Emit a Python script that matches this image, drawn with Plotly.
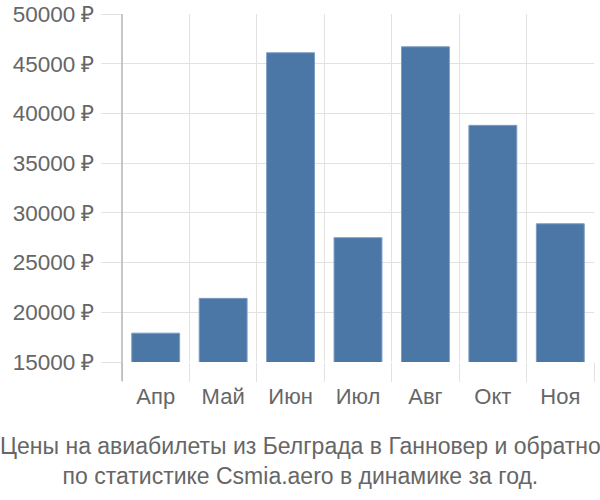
import plotly.graph_objects as go

months = ["Апр", "Май", "Июн", "Июл", "Авг", "Окт", "Ноя"]
prices = [17900, 21400, 46100, 27500, 46700, 38800, 28900]
y_ticks = [15000, 20000, 25000, 30000, 35000, 40000, 45000, 50000]
y_tick_labels = [f"{v} ₽" for v in y_ticks]
title_lines = ["Цены на авиабилеты из Белграда в Ганновер и обратно",
               "по статистике Csmia.aero в динамике за год."]

FONT = "Liberation Sans, Arial, sans-serif"
GRID = "#e2e2e2"
TEXT = "#666666"

fig = go.Figure(go.Bar(
    x=months, y=prices,
    marker=dict(color="#4a77a6", line=dict(color="#7b9cc2", width=1)),
    width=0.71,
))

fig.update_layout(
    width=600, height=500,
    margin=dict(l=122, r=6, t=14, b=138),
    paper_bgcolor="white", plot_bgcolor="white",
    showlegend=False,
    font=dict(family=FONT, color=TEXT, size=22),
    bargap=0.29,
)
fig.update_yaxes(
    range=[15000, 50000],
    tickvals=y_ticks, ticktext=y_tick_labels,
    showgrid=True, gridcolor=GRID, gridwidth=1,
    ticks="outside", ticklen=20, tickcolor=GRID,
    zeroline=False, showline=False,
    tickfont=dict(size=22.5, color=TEXT),
    ticklabelstandoff=2,
    automargin=False,
)
fig.update_xaxes(
    tickson="boundaries",
    showgrid=True, gridcolor=GRID, gridwidth=1,
    ticks="outside", ticklen=19, tickcolor=GRID,
    showline=False, zeroline=False,
    tickfont=dict(size=22, color=TEXT),
    ticklabelstandoff=19,
    automargin=False,
)
# left axis line extending below plot area
fig.add_shape(type="line", xref="paper", yref="paper",
              x0=0, x1=0, y0=-19/348, y1=1,
              line=dict(color="#aaaaaa", width=1.3), layer="above")

fig.add_annotation(
    text="<br>".join(title_lines),
    xref="paper", yref="paper", x=(300-122)/472, y=-(431-362)/348,
    xanchor="center", yanchor="top", showarrow=False,
    font=dict(family=FONT, size=23, color=TEXT),
    align="center",
)

fig.write_html("out.html")
